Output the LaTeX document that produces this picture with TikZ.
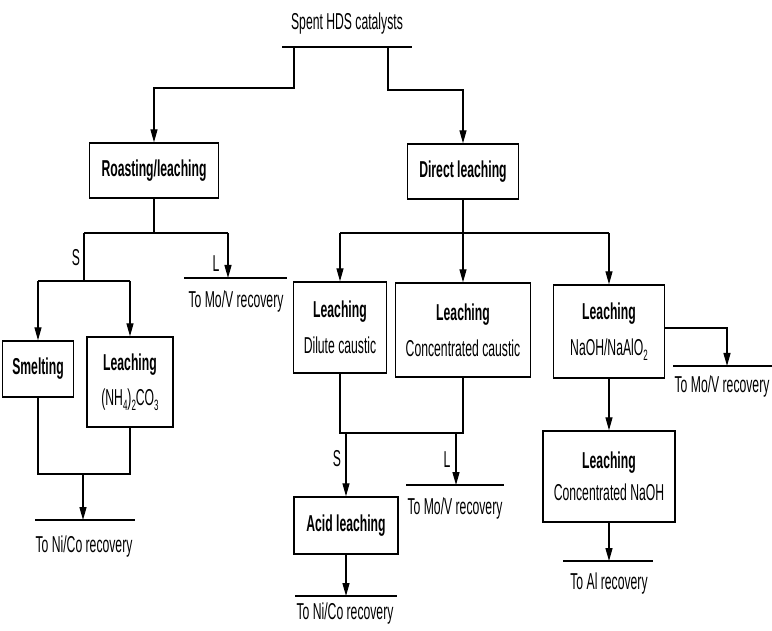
\documentclass[tikz,border=0pt]{standalone}
\usepackage{fontspec}
\setmainfont[FakeStretch=0.53]{Liberation Sans}
\usetikzlibrary{arrows.meta}
\newcommand{\tsub}[1]{\raisebox{-0.4ex}{\fontsize{15}{15}\selectfont #1}}
\begin{document}
\begin{tikzpicture}[x=1pt,y=-1pt,
  every node/.style={font=\fontsize{23}{26}\selectfont, inner sep=0pt},
  box/.style={draw, line width=1.4pt, align=center},
  ln/.style={line width=1.3pt},
  arr/.style={ln, -{Triangle[length=13pt,width=7pt]}},
  bar/.style={line width=2.2pt}
]
\useasboundingbox (0,0) rectangle (772,631);

% title
\node (spent) at (347,24) {Spent HDS catalysts};
\draw[bar] (282,47) -- (412,47);
\coordinate (sL) at (294,47);
\coordinate (sR) at (388,47);

% main boxes
\node[box, minimum width=129pt, minimum height=55pt] (roast) at (154,170.5) {\textbf{Roasting/leaching}};
\node[box, minimum width=111pt, minimum height=55pt] (direct) at (463,171.5) {\textbf{Direct leaching}};

\draw[arr] (sL) -- (294,88) -| (roast.north);
\draw[arr] (sR) -- (388,90) -| (direct.north);

% left branch
\node[box, minimum width=71pt, minimum height=56pt] (smelt) at (38,369) {\textbf{Smelting}};
\node[box, minimum width=86pt, minimum height=90pt] (leachA) at (130,382) {\textbf{Leaching}\\[9pt](NH\tsub{4})\tsub{2}CO\tsub{3}};

\coordinate (rj) at (154,233);
\coordinate (rjS) at (84,233);
\coordinate (rjL) at (228,233);
\coordinate (moV1) at (228,278);
\draw[ln] (roast.south) -- (rj);
\draw[ln] (rjS) -- (rjL);
\draw[arr] (rjL) -- (moV1);
\node (L1) at (216,264) {L};
\draw[bar] (184,278) -- (287,278);
\node (moV1t) at (236,302) {To Mo/V recovery};

\coordinate (sj) at (84,281);
\node (S1) at (76,258) {S};
\draw[ln] (rjS) -- (sj);
\draw[ln] (38,281) -- (130,281);
\draw[arr] (38,281) -- (smelt.north);
\draw[arr] (130,281) -- (leachA.north);

\coordinate (niA) at (83,520);
\draw[ln] (smelt.south) -- (38,474) -- (130,474) -- (leachA.south);
\draw[arr] (83,474) -- (niA);
\draw[bar] (35,520) -- (135,520);
\node (niAt) at (84,547) {To Ni/Co recovery};

% right branch
\node[box, minimum width=93pt, minimum height=91pt] (dil) at (340,327.5) {\textbf{Leaching}\\[10pt]Dilute caustic};
\node[box, minimum width=135pt, minimum height=94pt] (cc) at (463,330) {\textbf{Leaching}\\[10pt]Concentrated caustic};
\node[box, minimum width=111pt, minimum height=93pt] (naoh) at (609,331.5) {\textbf{Leaching}\\[10pt]NaOH/NaAlO\tsub{2}};
\node[box, minimum width=132pt, minimum height=91pt] (cn) at (609,476.5) {\textbf{Leaching}\\[6pt]Concentrated NaOH};
\node[box, minimum width=104pt, minimum height=57pt] (acid) at (346,525.5) {\textbf{Acid leaching}};

\draw[ln] (direct.south) -- (463,233);
\draw[ln] (340,233) -- (609,233);
\draw[arr] (340,233) -- (dil.north);
\draw[arr] (463,233) -- (cc.north);
\draw[arr] (609,233) -- (naoh.north);

\draw[ln] (dil.south) -- (340,433) -- (463,433) -- (cc.south);
\node (S2) at (337,459) {S};
\draw[arr] (346,433) -- (acid.north);
\coordinate (moV2) at (456,485);
\node (L2) at (447,460) {L};
\draw[arr] (456,433) -- (moV2);
\draw[bar] (406,485) -- (504,485);
\node (moV2t) at (455,509) {To Mo/V recovery};

\coordinate (niB) at (346,596);
\draw[arr] (acid.south) -- (niB);
\draw[bar] (295,596) -- (397,596);
\node (niBt) at (345,614) {To Ni/Co recovery};

\coordinate (moV3) at (727,366);
\draw[arr] ([yshift=3.5pt]naoh.east) -| (moV3);
\draw[bar] (673,366) -- (772,366);
\node (moV3t) at (722,387) {To Mo/V recovery};

\coordinate (al) at (609,561);
\draw[arr] (naoh.south) -- (cn.north);
\draw[arr] (cn.south) -- (al);
\draw[bar] (563,561) -- (653,561);
\node (alt) at (609,584) {To Al recovery};
\end{tikzpicture}
\end{document}
